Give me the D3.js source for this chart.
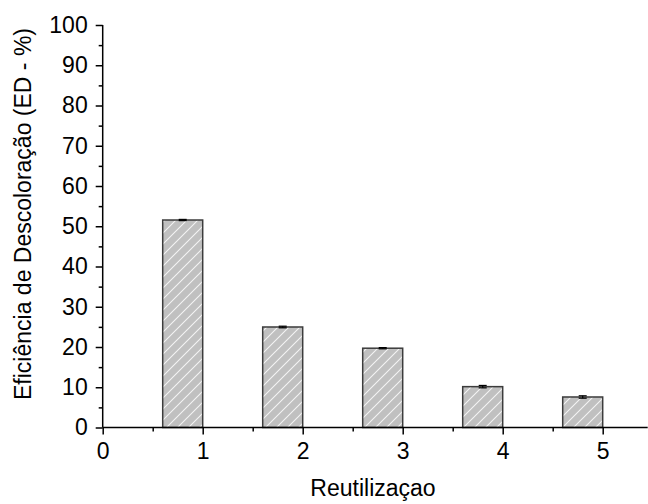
<!DOCTYPE html>
<html>
<head>
<meta charset="utf-8">
<script src="https://cdn.jsdelivr.net/npm/d3@7"></script>
<style>
  html, body { margin: 0; padding: 0; background: #fff; }
  svg { display: block; }
  text { font-family: Arial, "Liberation Sans", sans-serif; fill: #000; }
</style>
</head>
<body>
<script>
// Decolorization efficiency over successive reuse cycles
const cycles = [1, 2, 3, 4, 5];
const efficiency = [51.55, 24.97, 19.7, 10.15, 7.58];
const errors = [0.15, 0.2, 0.15, 0.3, 0.3];
const xTicks = [0, 1, 2, 3, 4, 5];
const yTicks = [0, 10, 20, 30, 40, 50, 60, 70, 80, 90, 100];

const width = 648, height = 504;
const fontSize = "23px";
const svg = d3.select("body").append("svg")
  .attr("width", width).attr("height", height);

const x = d3.scaleLinear().domain([0, 5.45]).range([102.7, 647.7]);
const y = d3.scaleLinear().domain([0, 100]).range([427.5, 25]);

// diagonal hatch fill
const defs = svg.append("defs");
const pat = defs.append("pattern")
  .attr("id", "hatch").attr("patternUnits", "userSpaceOnUse")
  .attr("width", 11).attr("height", 11);
pat.append("rect").attr("width", 11).attr("height", 11).attr("fill", "#c0c0c0");
pat.append("path").attr("d", "M-1,12 L12,-1 M-3,3 L3,-3 M8,14 L14,8")
  .attr("stroke", "#f4f4f4").attr("stroke-width", 1.1);

const barW = 0.4; // bar spans [n - 0.4, n]

const data = cycles.map((c, i) => ({ c, v: efficiency[i], e: errors[i] }));

svg.append("g").selectAll("rect").data(data).join("rect")
  .attr("x", d => x(d.c - barW))
  .attr("y", d => y(d.v))
  .attr("width", d => x(d.c) - x(d.c - barW))
  .attr("height", d => y(0) - y(d.v))
  .attr("fill", "url(#hatch)")
  .attr("stroke", "#3c3c3c").attr("stroke-width", 1.5);

// error bars
const eb = svg.append("g").attr("stroke", "#000").attr("stroke-width", 1.2);
data.forEach(d => {
  const cx = x(d.c - barW / 2);
  eb.append("line").attr("x1", cx).attr("x2", cx)
    .attr("y1", y(d.v - d.e)).attr("y2", y(d.v + d.e));
  eb.append("line").attr("x1", cx - 4).attr("x2", cx + 4)
    .attr("y1", y(d.v + d.e)).attr("y2", y(d.v + d.e));
  eb.append("line").attr("x1", cx - 4).attr("x2", cx + 4)
    .attr("y1", y(d.v - d.e)).attr("y2", y(d.v - d.e));
});

// x axis
const xAxis = svg.append("g").attr("transform", `translate(0,${y(0)})`)
  .call(d3.axisBottom(x).tickValues(xTicks).tickFormat(d3.format("d")).tickSize(7).tickPadding(8));
svg.append("g").attr("transform", `translate(0,${y(0)})`)
  .call(d3.axisBottom(x).tickValues(d3.range(0.5, 5.5, 1)).tickFormat("").tickSize(4))
  .select(".domain").remove();

// y axis
const yAxis = svg.append("g").attr("transform", `translate(${x(0)},0)`)
  .call(d3.axisLeft(y).tickValues(yTicks).tickSize(7).tickPadding(8));
svg.append("g").attr("transform", `translate(${x(0)},0)`)
  .call(d3.axisLeft(y).tickValues(d3.range(5, 100, 10)).tickFormat("").tickSize(4))
  .select(".domain").remove();

svg.selectAll(".domain").attr("stroke", "#000").attr("stroke-width", 1.5);
svg.selectAll(".tick line").attr("stroke", "#000").attr("stroke-width", 1.5);
svg.selectAll(".tick text").style("font-size", fontSize)
  .style("font-family", "Arial, 'Liberation Sans', sans-serif");
xAxis.selectAll(".domain").attr("d", `M${x(0)},0H${x(5.45)}`);
yAxis.selectAll(".domain").attr("d", `M0,${y(0)}V${y(100)}`);

// axis titles
svg.append("text").attr("x", 373).attr("y", 496)
  .attr("text-anchor", "middle").style("font-size", fontSize)
  .text("Reutilizaçao");
svg.append("text")
  .attr("transform", `translate(31,214) rotate(-90)`)
  .attr("text-anchor", "middle").style("font-size", fontSize)
  .text("Eficiência de Descoloração (ED - %)");
</script>
</body>
</html>
